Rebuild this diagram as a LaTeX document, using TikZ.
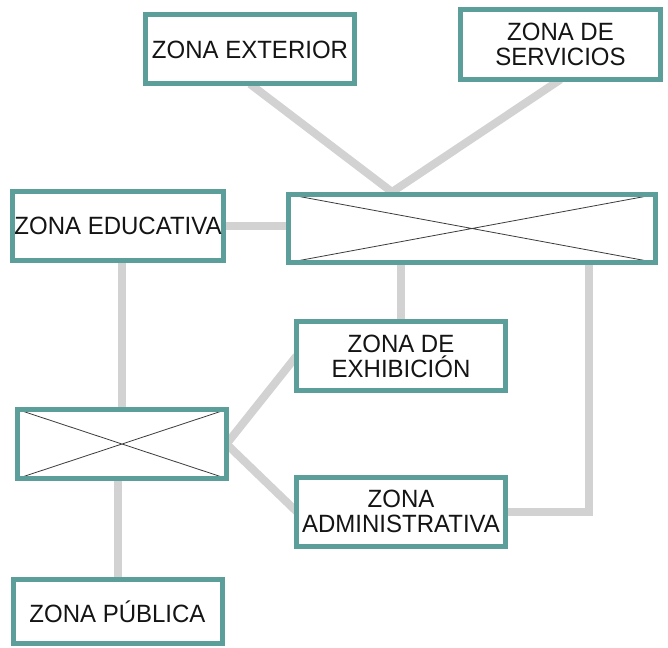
\documentclass[tikz,border=0pt]{standalone}
\usepackage{fontspec}
\setmainfont{Liberation Sans}[FakeStretch=0.96]
\usetikzlibrary{backgrounds}
\definecolor{zoneteal}{RGB}{92,158,154}
\definecolor{linkgray}{RGB}{210,210,210}
\definecolor{crossgray}{RGB}{60,60,60}
\definecolor{labelink}{RGB}{20,20,20}

\begin{document}
\begin{tikzpicture}[
    x=1pt, y=-1pt,
    zone/.style={draw=zoneteal, line width=5pt, fill=white, outer sep=0pt, align=center, minimum width=209pt, minimum height=69pt, inner sep=2pt, text=labelink, font=\fontsize{25}{25}\selectfont},
    hub/.style={zone, path picture={\draw[crossgray, line width=0.8pt] (path picture bounding box.north west) -- (path picture bounding box.south east) (path picture bounding box.south west) -- (path picture bounding box.north east);}},
    link/.style={linkgray, line width=8pt}
]
\useasboundingbox (0,0) rectangle (668,647);
\node[zone] (ext) at (250,49.5) {ZONA EXTERIOR};
\node[zone, minimum width=200pt, minimum height=70pt] (serv) at (560.5,44.5) {ZONA DE\\SERVICIOS};
\node[zone] (edu) at (118,226) {ZONA EDUCATIVA};
\node[hub, minimum width=367pt, minimum height=68pt] (hubA) at (472,228.5) {};
\node[zone] (exh) at (401,356) {ZONA DE\\EXHIBICIÓN};
\node[hub] (hubB) at (122,444) {};
\node[zone] (adm) at (401,511.5) {ZONA\\ADMINISTRATIVA};
\node[zone, minimum height=64pt] (pub) at (117.5,611.5) {ZONA PÚBLICA};
\coordinate (apex) at (392,192);
\coordinate (turn) at (589,511.5);
\begin{pgfonlayer}{background}
\draw[link] (ext.south) -- (apex);
\draw[link] (serv.south) -- (apex);
\draw[link] (edu.east) -- (edu.east -| hubA.west);
\draw[link] (exh.north |- hubA.south) -- (exh.north);
\draw[link] (turn |- hubA.south) -- (turn) -- (adm.east);
\draw[link] (hubB.north |- edu.south) -- (hubB.north);
\draw[link] (hubB.east) -- (exh.west);
\draw[link] (hubB.east) -- (adm.west);
\draw[link] (pub.north |- hubB.south) -- (pub.north);
\end{pgfonlayer}
\end{tikzpicture}
\end{document}
